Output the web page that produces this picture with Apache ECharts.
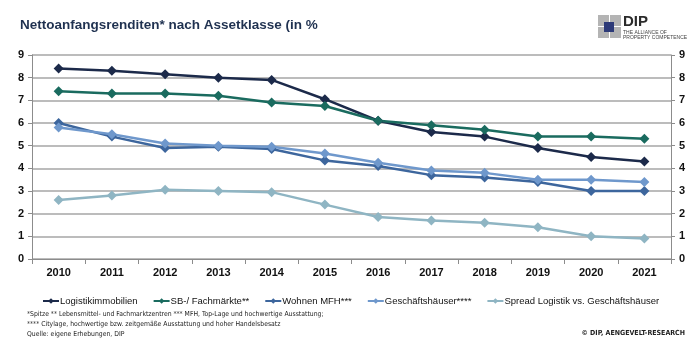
<!DOCTYPE html>
<html>
<head>
<meta charset="utf-8">
<script src="https://cdn.jsdelivr.net/npm/echarts@6/dist/echarts.min.js"></script>
<style>
  html, body { margin: 0; padding: 0; background: #fff; }
  #chart { width: 700px; height: 347px; }
</style>
</head>
<body>
<div id="chart"></div>
<script>
// Jahre auf der x-Achse
const years = ['2010', '2011', '2012', '2013', '2014', '2015', '2016', '2017', '2018', '2019', '2020', '2021'];

// Nettoanfangsrenditen in %
const logistik = [8.4, 8.3, 8.15, 8.0, 7.9, 7.05, 6.1, 5.6, 5.4, 4.9, 4.5, 4.3];
const fachmaerkte = [7.4, 7.3, 7.3, 7.2, 6.9, 6.75, 6.1, 5.9, 5.7, 5.4, 5.4, 5.3];
const wohnen = [6.0, 5.4, 4.9, 4.95, 4.85, 4.35, 4.1, 3.7, 3.6, 3.4, 3.0, 3.0];
const geschaeft = [5.8, 5.5, 5.1, 5.0, 4.95, 4.65, 4.25, 3.9, 3.8, 3.5, 3.5, 3.4];
const spread = [2.6, 2.8, 3.05, 3.0, 2.95, 2.4, 1.85, 1.7, 1.6, 1.4, 1.0, 0.9];

// Werte der y-Achse
const yTicks = [0, 1, 2, 3, 4, 5, 6, 7, 8, 9];

const seriesDefs = [
  { name: 'Logistikimmobilien', data: logistik, color: '#1c2a4a' },
  { name: 'SB-/ Fachmärkte**', data: fachmaerkte, color: '#1a6b5f' },
  { name: 'Wohnen MFH***', data: wohnen, color: '#3d669d' },
  { name: 'Geschäftshäuser****', data: geschaeft, color: '#6f98cc' },
  { name: 'Spread Logistik vs. Geschäftshäuser', data: spread, color: '#8fb5c3' }
];

const chart = echarts.init(document.getElementById('chart'), null, { renderer: 'canvas' });

const axisLabelStyle = { color: '#111', fontSize: 11, fontWeight: 'bold', fontFamily: 'Liberation Sans, Arial, sans-serif' };

const valueAxis = (pos) => ({
  type: 'value',
  position: pos,
  min: yTicks[0],
  max: yTicks[yTicks.length - 1],
  interval: 1,
  axisLine: { show: true, lineStyle: { color: '#8c8c8c', width: 1 } },
  axisTick: { show: true, length: 4, lineStyle: { color: '#8c8c8c' } },
  axisLabel: Object.assign({ margin: 8 }, axisLabelStyle),
  splitLine: { show: pos === 'left', lineStyle: { color: '#a6a6a6', width: 1.5 } }
});

const noteFont = '6.8px "Liberation Sans Narrow", "DejaVu Sans Condensed", sans-serif';

chart.setOption({
  animation: false,
  textStyle: { fontFamily: 'Liberation Sans, Arial, sans-serif' },
  title: {
    text: 'Nettoanfangsrenditen* nach Assetklasse (in %',
    left: 15,
    top: 13,
    textStyle: { color: '#1f3150', fontSize: 13.5, fontWeight: 'bold', fontFamily: 'Liberation Sans, Arial, sans-serif' }
  },
  grid: { left: 32, right: 29, top: 55, bottom: 88, containLabel: false },
  xAxis: {
    type: 'category',
    data: years,
    boundaryGap: true,
    axisLine: { show: true, lineStyle: { color: '#8c8c8c', width: 1 } },
    axisTick: { show: true, length: 5, alignWithLabel: false, lineStyle: { color: '#8c8c8c' } },
    axisLabel: Object.assign({ margin: 8 }, axisLabelStyle),
    splitLine: { show: false }
  },
  yAxis: [valueAxis('left'), valueAxis('right')],
  legend: {
    top: 291,
    left: 37,
    itemWidth: 16,
    itemHeight: 7,
    itemGap: 15,
    textStyle: { color: '#111', fontSize: 9.5, fontFamily: 'Liberation Sans, Arial, sans-serif', padding: [0, 0, 0, -4] },
    data: seriesDefs.map(s => s.name)
  },
  series: seriesDefs.map(s => ({
    name: s.name,
    type: 'line',
    data: s.data,
    yAxisIndex: 0,
    symbol: 'diamond',
    symbolSize: 10,
    lineStyle: { color: s.color, width: 2.5 },
    itemStyle: { color: s.color },
    emphasis: { disabled: true }
  })),
  graphic: [
    // Fußnoten
    { type: 'text', left: 27, top: 311, style: { text: '*Spitze ** Lebensmittel- und Fachmarktzentren *** MFH, Top-Lage und hochwertige Ausstattung;', fill: '#222', font: noteFont } },
    { type: 'text', left: 27, top: 321, style: { text: '**** Citylage, hochwertige bzw. zeitgemäße Ausstattung und hoher Handelsbesatz', fill: '#222', font: noteFont } },
    { type: 'text', left: 27, top: 331, style: { text: 'Quelle: eigene Erhebungen, DIP', fill: '#222', font: noteFont } },
    { type: 'text', right: 15, top: 330, style: { text: '© DIP, AENGEVELT-RESEARCH', fill: '#222', font: 'bold 7px "Liberation Sans Narrow", "DejaVu Sans Condensed", sans-serif' } },
    // Logo
    { type: 'rect', shape: { x: 598, y: 15, width: 11, height: 11 }, style: { fill: '#b4b4b4' } },
    { type: 'rect', shape: { x: 610, y: 15, width: 11, height: 11 }, style: { fill: '#b4b4b4' } },
    { type: 'rect', shape: { x: 598, y: 27, width: 11, height: 11 }, style: { fill: '#b4b4b4' } },
    { type: 'rect', shape: { x: 610, y: 27, width: 11, height: 11 }, style: { fill: '#b4b4b4' } },
    { type: 'rect', shape: { x: 604, y: 22, width: 10, height: 10 }, style: { fill: '#2d3a78' } },
    { type: 'text', left: 623, top: 14, style: { text: 'DIP', fill: '#2b2b2b', font: 'bold 15px "Liberation Sans", Arial, sans-serif' } },
    { type: 'text', left: 623, top: 30, style: { text: 'THE ALLIANCE OF', fill: '#444', font: '5px "Liberation Sans", Arial, sans-serif' } },
    { type: 'text', left: 623, top: 35.5, style: { text: 'PROPERTY COMPETENCE', fill: '#444', font: '5px "Liberation Sans", Arial, sans-serif' } }
  ]
});
</script>
</body>
</html>
